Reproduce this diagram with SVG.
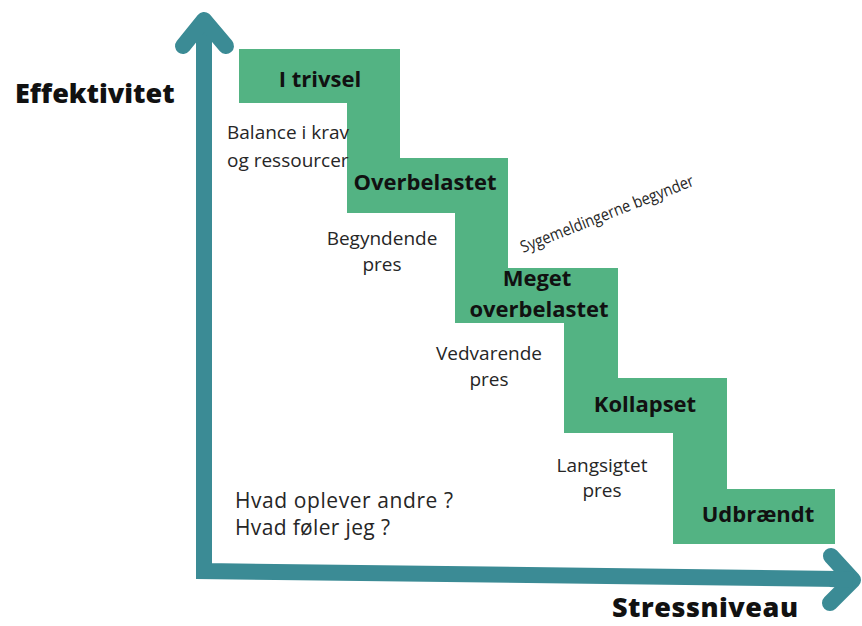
<svg xmlns="http://www.w3.org/2000/svg" width="862" height="626" viewBox="0 0 862 626">
  <style>
    .step { fill: #53b383; }
    .axis { fill: none; stroke: #3b8b95; stroke-width: 16; stroke-linecap: round; stroke-linejoin: round; }
    .axisline { fill: none; stroke: #3b8b95; stroke-width: 16; stroke-linecap: butt; stroke-linejoin: miter; }
    .lbl { font-family: "Open Sans", "Liberation Sans", sans-serif; font-weight: 700; font-size: 22px; fill: #111; text-anchor: middle; }
    .note { font-family: "Open Sans", "Liberation Sans", sans-serif; font-weight: 400; font-size: 19px; fill: #262626; text-anchor: middle; }
    .title { font-family: "Open Sans", "Liberation Sans", sans-serif; font-weight: 800; font-size: 27px; fill: #111; }
    .q { font-family: "Open Sans", "Liberation Sans", sans-serif; font-weight: 400; font-size: 21px; fill: #262626; }
  </style>
  <rect width="862" height="626" fill="#ffffff"/>

  <g id="stairs-risers">
    <rect class="step" x="347" y="102" width="53" height="57"/>
    <rect class="step" x="455" y="212" width="53" height="57"/>
    <rect class="step" x="564" y="322" width="54" height="57"/>
    <rect class="step" x="673" y="432" width="54" height="58"/>
  </g>

  <g id="node-trivsel">
    <rect class="step" x="239" y="49" width="161" height="54"/>
    <text class="lbl" x="320" y="87">I trivsel</text>
  </g>
  <g id="node-overbelastet">
    <rect class="step" x="347" y="158" width="161" height="55"/>
    <text class="lbl" x="425" y="190">Overbelastet</text>
  </g>
  <g id="node-meget">
    <rect class="step" x="455" y="268" width="163" height="55"/>
    <text class="lbl" x="537" y="286">Meget</text>
    <text class="lbl" x="539" y="317">overbelastet</text>
  </g>
  <g id="node-kollapset">
    <rect class="step" x="564" y="378" width="163" height="55"/>
    <text class="lbl" x="645" y="412">Kollapset</text>
  </g>
  <g id="node-udbraendt">
    <rect class="step" x="673" y="489" width="162" height="55"/>
    <text class="lbl" x="758" y="522">Udbrændt</text>
  </g>

  <g id="connectors">
    <polyline class="axisline" points="204,20 204,571 840,579"/>
    <polyline class="axis" points="183,46 204,20 226,46"/>
    <polyline class="axis" points="831,556 853,580 830,603"/>
    <line class="axisline" x1="830" y1="579" x2="853" y2="580"/>
  </g>

  <g id="labels">
    <text class="title" x="15" y="103">Effektivitet</text>
    <text class="title" x="612" y="617" textLength="186">Stressniveau</text>
    <text class="note" x="227" y="139" style="text-anchor:start">Balance i krav</text>
    <text class="note" x="227" y="167" style="text-anchor:start">og ressourcer</text>
    <text class="note" x="382" y="245">Begyndende</text>
    <text class="note" x="382" y="271">pres</text>
    <text class="note" x="489" y="360">Vedvarende</text>
    <text class="note" x="489" y="386">pres</text>
    <text class="note" x="602" y="472">Langsigtet</text>
    <text class="note" x="602" y="497">pres</text>
    <text class="q" x="235" y="508" textLength="218">Hvad oplever andre ?</text>
    <text class="q" x="235" y="535" textLength="155">Hvad føler jeg ?</text>
    <text transform="translate(523,253) rotate(-21.5)" x="0" y="0" font-family="'Open Sans', 'Liberation Sans', sans-serif" font-size="16.5" fill="#262626" textLength="185" lengthAdjust="spacingAndGlyphs">Sygemeldingerne begynder</text>
  </g>
</svg>
